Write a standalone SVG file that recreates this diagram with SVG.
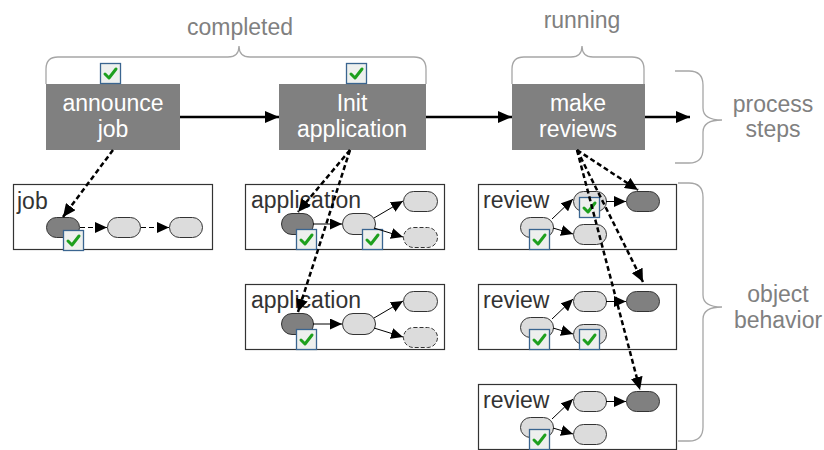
<svg xmlns="http://www.w3.org/2000/svg" xmlns:xlink="http://www.w3.org/1999/xlink" width="824" height="450" viewBox="0 0 824 450">
<style>
text{font-family:"Liberation Sans",Arial,sans-serif;font-size:23px}
.step{fill:#808080}
.steptxt{fill:#ffffff;text-anchor:middle}
.note{fill:#808080;text-anchor:middle}
.brace{fill:none;stroke:#a6a6a6;stroke-width:1.3}
.obj{fill:#ffffff;stroke:#333333;stroke-width:1.2}
.objtxt{fill:#333333}
.pl{fill:#dcdcdc;stroke:#333333;stroke-width:1}
.pd{fill:#808080;stroke:#333333;stroke-width:1}
.pdash{fill:#dcdcdc;stroke:#333333;stroke-width:1;stroke-dasharray:4,2}
.flow{stroke:#000;stroke-width:2.5;fill:none}
.tr{stroke:#000;stroke-width:1;fill:none}
.trd{stroke:#000;stroke-width:1;fill:none;stroke-dasharray:5,3}
.ref{stroke:#000;stroke-width:2.5;fill:none;stroke-dasharray:5,3}
</style>
<defs>
<marker id="ah" markerUnits="userSpaceOnUse" markerWidth="14" markerHeight="12" refX="14" refY="6" orient="auto"><path d="M0,0 L14,6 L0,12 z" fill="#000"/></marker>
<marker id="as" markerUnits="userSpaceOnUse" markerWidth="12" markerHeight="11" refX="12" refY="5.5" orient="auto"><path d="M0,0 L12,5.5 L0,11 z" fill="#000"/></marker>
<marker id="ad" markerUnits="userSpaceOnUse" markerWidth="13" markerHeight="12" refX="13" refY="6" orient="auto"><path d="M0,0 L13,6 L0,12 z" fill="#000"/></marker>
<g id="chk">
<rect x="0.5" y="0.5" width="20" height="20" fill="#eef0ee" stroke="#3a6590" stroke-width="1.3"/>
<polyline points="5,11 9,15 16,6" fill="none" stroke="#1ea01e" stroke-width="3" stroke-linecap="round" stroke-linejoin="round"/>
</g>
</defs>

<!-- braces and notes -->
<g id="completed">
<path class="brace" d="M46,84 V69 Q46,57 58,57 H228 Q239,57 239,46 Q239,57 250,57 H414 Q426,57 426,69 V84"/>
<text class="note" x="240" y="35">completed</text>
</g>
<g id="running">
<path class="brace" d="M512,84 V69 Q512,57 524,57 H571 Q582,57 582,46 Q582,57 593,57 H632 Q644,57 644,69 V84"/>
<text class="note" x="582" y="28">running</text>
</g>
<g id="process-steps">
<path class="brace" d="M675,71 H689 Q703,71 703,85 V108 Q703,120 722,120 Q703,120 703,132 V149 Q703,163 689,163 H675"/>
<text class="note" x="773" y="112">process</text>
<text class="note" x="773" y="137">steps</text>
</g>
<g id="object-behavior">
<path class="brace" d="M678,183 H689 Q703,183 703,197 V295 Q703,307 722,307 Q703,307 703,319 V427 Q703,441 689,441 H678"/>
<text class="note" x="778" y="302">object</text>
<text class="note" x="778" y="328">behavior</text>
</g>

<!-- process steps -->
<g id="announce-job">
<rect class="step" x="46" y="84" width="134" height="66"/>
<text class="steptxt" x="113" y="111">announce</text>
<text class="steptxt" x="113" y="137">job</text>
<use xlink:href="#chk" x="100" y="63"/>
</g>
<g id="init-application">
<rect class="step" x="279" y="84" width="147" height="66"/>
<text class="steptxt" x="352" y="111">Init</text>
<text class="steptxt" x="352" y="137">application</text>
<use xlink:href="#chk" x="346" y="63"/>
</g>
<g id="make-reviews">
<rect class="step" x="512" y="84" width="133" height="66"/>
<text class="steptxt" x="578" y="111">make</text>
<text class="steptxt" x="578" y="137">reviews</text>
</g>

<!-- object: job -->
<g id="job">
<rect class="obj" x="13.5" y="184.5" width="199" height="65"/>
<text class="objtxt" x="17" y="209">job</text>
<rect class="pd" x="46.5" y="217.5" width="33" height="20" rx="10"/>
<rect class="pl" x="107.5" y="217.5" width="33" height="20" rx="10"/>
<rect class="pl" x="169.5" y="217.5" width="33" height="20" rx="10"/>
<use xlink:href="#chk" x="63" y="230"/>
</g>

<!-- object: application 1 -->
<g id="application-1">
<rect class="obj" x="245.5" y="184.5" width="199" height="65"/>
<text class="objtxt" x="251" y="208">application</text>
<rect class="pd" x="281.5" y="213.5" width="32" height="21" rx="10.5"/>
<rect class="pl" x="342.5" y="213.5" width="33" height="21" rx="10.5"/>
<rect class="pl" x="403.5" y="191.5" width="34" height="20" rx="10"/>
<rect class="pdash" x="403.5" y="227.5" width="34" height="20" rx="10"/>
<use xlink:href="#chk" x="296" y="229"/>
<use xlink:href="#chk" x="362" y="229"/>
</g>

<!-- object: application 2 -->
<g id="application-2">
<rect class="obj" x="245.5" y="284.5" width="199" height="65"/>
<text class="objtxt" x="251" y="308">application</text>
<rect class="pd" x="281.5" y="313.5" width="32" height="21" rx="10.5"/>
<rect class="pl" x="342.5" y="313.5" width="33" height="21" rx="10.5"/>
<rect class="pl" x="403.5" y="291.5" width="34" height="20" rx="10"/>
<rect class="pdash" x="403.5" y="327.5" width="34" height="20" rx="10"/>
<use xlink:href="#chk" x="296" y="329"/>
</g>

<!-- object: review 1 -->
<g id="review-1">
<rect class="obj" x="478.5" y="184.5" width="198" height="65"/>
<text class="objtxt" x="483" y="208">review</text>
<rect class="pl" x="520.5" y="217.5" width="33" height="20" rx="10"/>
<rect class="pl" x="573.5" y="191.5" width="33" height="20" rx="10"/>
<rect class="pl" x="573.5" y="224.5" width="33" height="20" rx="10"/>
<rect class="pd" x="626.5" y="191.5" width="33" height="20" rx="10"/>
<use xlink:href="#chk" x="529" y="229"/>
<use xlink:href="#chk" x="579" y="197"/>
</g>

<!-- object: review 2 -->
<g id="review-2">
<rect class="obj" x="478.5" y="284.5" width="198" height="65"/>
<text class="objtxt" x="483" y="308">review</text>
<rect class="pl" x="520.5" y="317.5" width="33" height="20" rx="10"/>
<rect class="pl" x="573.5" y="291.5" width="33" height="20" rx="10"/>
<rect class="pl" x="573.5" y="324.5" width="33" height="20" rx="10"/>
<rect class="pd" x="626.5" y="291.5" width="33" height="20" rx="10"/>
<use xlink:href="#chk" x="529" y="329"/>
<use xlink:href="#chk" x="579" y="329"/>
</g>

<!-- object: review 3 -->
<g id="review-3">
<rect class="obj" x="478.5" y="384.5" width="198" height="65"/>
<text class="objtxt" x="483" y="408">review</text>
<rect class="pl" x="520.5" y="417.5" width="33" height="20" rx="10"/>
<rect class="pl" x="573.5" y="391.5" width="33" height="20" rx="10"/>
<rect class="pl" x="573.5" y="424.5" width="33" height="20" rx="10"/>
<rect class="pd" x="626.5" y="391.5" width="33" height="20" rx="10"/>
<use xlink:href="#chk" x="529" y="429"/>
</g>

<!-- connectors -->
<g id="connectors">
<line class="flow" x1="180" y1="117" x2="279" y2="117" marker-end="url(#ah)"/>
<line class="flow" x1="426" y1="117" x2="512" y2="117" marker-end="url(#ah)"/>
<line class="flow" x1="645" y1="117" x2="690" y2="117" marker-end="url(#ah)"/>

<line class="trd" x1="80" y1="227.5" x2="107" y2="227.5" marker-end="url(#as)"/>
<line class="trd" x1="141" y1="227.5" x2="169" y2="227.5" marker-end="url(#as)"/>

<line class="tr" x1="313" y1="224" x2="342" y2="224" marker-end="url(#as)"/>
<line class="tr" x1="374" y1="218" x2="403" y2="201" marker-end="url(#as)"/>
<line class="tr" x1="374" y1="228" x2="403" y2="237" marker-end="url(#as)"/>
<line class="tr" x1="313" y1="324" x2="342" y2="324" marker-end="url(#as)"/>
<line class="tr" x1="374" y1="318" x2="403" y2="301" marker-end="url(#as)"/>
<line class="tr" x1="374" y1="328" x2="403" y2="337" marker-end="url(#as)"/>

<line class="tr" x1="552" y1="219" x2="573" y2="199" marker-end="url(#as)"/>
<line class="tr" x1="553" y1="228" x2="573" y2="234" marker-end="url(#as)"/>
<line class="tr" x1="606" y1="201.5" x2="626" y2="201.5" marker-end="url(#as)"/>
<line class="tr" x1="552" y1="319" x2="573" y2="299" marker-end="url(#as)"/>
<line class="tr" x1="553" y1="328" x2="573" y2="334" marker-end="url(#as)"/>
<line class="tr" x1="606" y1="301.5" x2="626" y2="301.5" marker-end="url(#as)"/>
<line class="tr" x1="552" y1="419" x2="573" y2="399" marker-end="url(#as)"/>
<line class="tr" x1="553" y1="428" x2="573" y2="434" marker-end="url(#as)"/>
<line class="tr" x1="606" y1="401.5" x2="626" y2="401.5" marker-end="url(#as)"/>

<line class="ref" x1="113" y1="150" x2="63" y2="217" marker-end="url(#ad)"/>
<line class="ref" x1="350" y1="150" x2="298" y2="212" marker-end="url(#ad)"/>
<line class="ref" x1="350" y1="150" x2="298" y2="312" marker-end="url(#ad)"/>
<line class="ref" x1="577" y1="150" x2="638" y2="190" marker-end="url(#ad)"/>
<line class="ref" x1="577" y1="150" x2="643" y2="282" marker-end="url(#ad)"/>
<line class="ref" x1="577" y1="150" x2="640" y2="390" marker-end="url(#ad)"/>
</g>
</svg>
